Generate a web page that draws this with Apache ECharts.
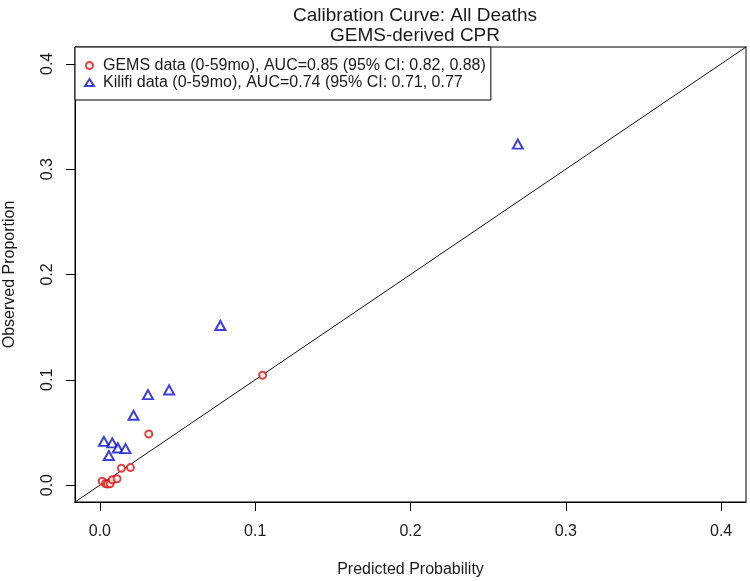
<!DOCTYPE html>
<html>
<head>
<meta charset="utf-8">
<script src="https://cdn.jsdelivr.net/npm/echarts@6/dist/echarts.min.js"></script>
<style>html,body{margin:0;padding:0;background:#fff}#chart{width:750px;height:581px}</style>
</head>
<body>
<div id="chart"></div>
<script>
const titleLines = ['Calibration Curve: All Deaths', 'GEMS-derived CPR'];
const xAxisTitle = 'Predicted Probability';
const yAxisTitle = 'Observed Proportion';
const tickValues = [0, 0.1, 0.2, 0.3, 0.4];
const axisRange = [-0.016, 0.416];
const gemsName = 'GEMS data (0-59mo), AUC=0.85 (95% CI: 0.82, 0.88)';
const kilifiName = 'Kilifi data (0-59mo), AUC=0.74 (95% CI: 0.71, 0.77';
const gemsPredicted = [0.0015, 0.0037, 0.0049, 0.0066, 0.0080, 0.0111, 0.0139, 0.0197, 0.0315, 0.1048];
const gemsObserved  = [0.0038, 0.0016, 0.0011, 0.0013, 0.0051, 0.0060, 0.0160, 0.0167, 0.0486, 0.1043];
const kilifiPredicted = [0.0026, 0.0058, 0.0080, 0.0116, 0.0165, 0.0217, 0.0310, 0.0446, 0.0776, 0.2691];
const kilifiObserved  = [0.0416, 0.0281, 0.0401, 0.0353, 0.0347, 0.0663, 0.0859, 0.0904, 0.1516, 0.3238];
const diagonal = [[-0.1, -0.1], [0.5, 0.5]];

const FONT = 'Liberation Sans, Arial, sans-serif';
const TXT = '#1a1a1a';
const RED = '#e01010';
const BLUE = '#1010d0';
const zip = (a, b) => a.map((v, i) => [v, b[i]]);

const chart = echarts.init(document.getElementById('chart'), null, {renderer: 'canvas'});
const axisCommon = {
  type: 'value',
  min: axisRange[0],
  max: axisRange[1],
  splitLine: {show: false},
  axisLine: {show: true, onZero: false, lineStyle: {color: '#000', width: 1}},
  axisTick: {show: true, inside: false, length: 9, customValues: tickValues, lineStyle: {color: '#000', width: 1}},
  nameLocation: 'middle',
  nameTextStyle: {fontFamily: FONT, fontSize: 16, color: TXT}
};
chart.setOption({
  animation: false,
  backgroundColor: '#fff',
  title: {
    text: titleLines.join('\n'),
    left: 410, top: 1, textAlign: 'center',
    textStyle: {fontFamily: FONT, fontSize: 19, fontWeight: 'normal', color: TXT, lineHeight: 20}
  },
  grid: {left: 75, right: 4, top: 47, bottom: 79, outerBoundsMode: 'none', containLabel: false,
         show: true, borderColor: '#000', borderWidth: 1, backgroundColor: 'transparent'},
  legend: {
    left: 75, top: 47, orient: 'vertical',
    data: [gemsName, kilifiName],
    backgroundColor: '#fff', borderColor: '#000', borderWidth: 1, borderRadius: 0,
    padding: [10, 5, 9, 9], itemGap: 0, itemWidth: 9, itemHeight: 7,
    itemStyle: {borderWidth: 1},
    textStyle: {fontFamily: FONT, fontSize: 16, color: TXT, lineHeight: 17, padding: [0, 0, 0, 4]}
  },
  xAxis: Object.assign({}, axisCommon, {
    name: xAxisTitle, nameGap: 60,
    axisLabel: {customValues: tickValues, margin: 22, fontFamily: FONT, fontSize: 16, color: TXT, formatter: v => v.toFixed(1)}
  }),
  yAxis: Object.assign({}, axisCommon, {
    name: yAxisTitle, nameGap: 57,
    axisLabel: {customValues: tickValues, rotate: 90, margin: 19, fontFamily: FONT, fontSize: 16, color: TXT, formatter: v => v.toFixed(1)}
  }),
  series: [
    {type: 'line', data: diagonal, symbol: 'none', silent: true, clip: true, lineStyle: {color: '#111', width: 1}, z: 1},
    {name: gemsName, type: 'scatter', data: zip(gemsPredicted, gemsObserved), symbol: 'emptyCircle', symbolSize: 7,
     itemStyle: {color: RED, borderColor: RED, borderWidth: 1}, z: 3},
    {name: kilifiName, type: 'scatter', data: zip(kilifiPredicted, kilifiObserved), symbol: 'emptyTriangle', symbolSize: [10, 9],
     itemStyle: {color: BLUE, borderColor: BLUE, borderWidth: 1}, z: 3}
  ]
});
</script>
</body>
</html>
